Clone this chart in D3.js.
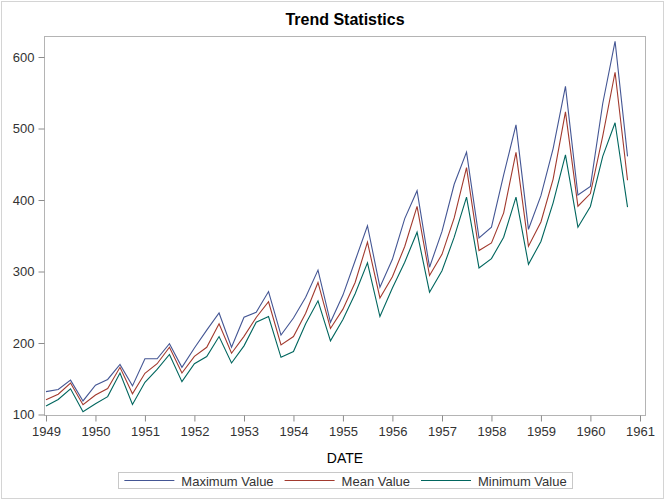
<!DOCTYPE html>
<html>
<head>
<meta charset="utf-8">
<script src="https://cdn.jsdelivr.net/npm/d3@7"></script>
<style>
  html, body { margin: 0; padding: 0; background: #fff; }
  svg { display: block; font-family: "Liberation Sans", Arial, sans-serif; }
</style>
</head>
<body>
<svg id="chart" width="666" height="500"></svg>
<script>
// ---- Data (quarterly statistics) ----
const dates = [
  "1949-01-01","1949-04-01","1949-07-01","1949-10-01",
  "1950-01-01","1950-04-01","1950-07-01","1950-10-01",
  "1951-01-01","1951-04-01","1951-07-01","1951-10-01",
  "1952-01-01","1952-04-01","1952-07-01","1952-10-01",
  "1953-01-01","1953-04-01","1953-07-01","1953-10-01",
  "1954-01-01","1954-04-01","1954-07-01","1954-10-01",
  "1955-01-01","1955-04-01","1955-07-01","1955-10-01",
  "1956-01-01","1956-04-01","1956-07-01","1956-10-01",
  "1957-01-01","1957-04-01","1957-07-01","1957-10-01",
  "1958-01-01","1958-04-01","1958-07-01","1958-10-01",
  "1959-01-01","1959-04-01","1959-07-01","1959-10-01",
  "1960-01-01","1960-04-01","1960-07-01","1960-10-01"
];
const maxValues = [
  132,135,148,119, 141,149,170,140, 178,178,199,166, 193,218,242,194,
  236,243,272,211, 235,264,302,229, 267,315,364,278, 317,374,413,306,
  356,422,467,347, 362,435,505,359, 406,472,559,407, 419,535,622,461
];
const meanValues = [
  120.67,128.33,144.00,113.67, 127.33,136.33,166.00,129.00,
  157.67,171.00,194.00,158.00, 181.33,194.00,227.00,185.67,
  209.33,235.67,257.67,197.33, 209.00,241.67,284.67,220.33,
  247.33,284.67,341.00,263.00, 292.67,335.00,391.00,294.33,
  324.00,375.00,445.33,329.33, 340.00,382.00,466.67,335.33,
  369.33,429.33,523.33,391.33, 409.00,489.33,578.67,427.67
];
const minValues = [
  112,121,136,104, 115,125,158,114, 145,163,184,146, 171,181,209,172,
  196,229,237,180, 188,227,259,203, 233,269,312,237, 277,313,355,271,
  301,348,404,305, 318,348,404,310, 342,396,463,362, 391,461,508,390
];
const yTicks = [100, 200, 300, 400, 500, 600];
const xTickYears = [1949,1950,1951,1952,1953,1954,1955,1956,1957,1958,1959,1960,1961];
const seriesNames = ["Maximum Value", "Mean Value", "Minimum Value"];
const seriesColors = ["#445694", "#A23A2E", "#01665E"];

// ---- Layout ----
const svg = d3.select("#chart");
const W = 666, H = 500;
const frame = { left: 44, right: 646, top: 36, bottom: 416 };

const parse = d3.utcParse("%Y-%m-%d");
const dateObjs = dates.map(parse);

// x: 1949 tick at 46, 1961 tick at 640
const xBase = d3.scaleUtc()
  .domain([new Date(Date.UTC(1949,0,1)), new Date(Date.UTC(1961,0,1))])
  .range([46, 640]);
const x = d3.scaleUtc()
  .domain([xBase.invert(frame.left), xBase.invert(frame.right)])
  .range([frame.left, frame.right]);

// y: 100 at 414.5, 600 at 57
const yBase = d3.scaleLinear().domain([100, 600]).range([414.5, 57]);
const y = d3.scaleLinear()
  .domain([yBase.invert(frame.bottom), yBase.invert(frame.top)])
  .range([frame.bottom, frame.top]);

// outer border
svg.append("rect")
  .attr("x", 1.5).attr("y", 1.5).attr("width", 662).attr("height", 497)
  .attr("fill", "none").attr("stroke", "#d4d4d4").attr("stroke-width", 1);

// title
svg.append("text")
  .attr("x", (frame.left + frame.right) / 2).attr("y", 25)
  .attr("text-anchor", "middle")
  .attr("font-size", 16).attr("font-weight", "bold").attr("fill", "#000")
  .text("Trend Statistics");

// lines
const series = [maxValues, meanValues, minValues];
const line = d3.line()
  .x((d, i) => x(dateObjs[i]))
  .y(d => y(d));
const plot = svg.append("g");
series.forEach((vals, k) => {
  plot.append("path")
    .datum(vals)
    .attr("fill", "none")
    .attr("stroke", seriesColors[k])
    .attr("stroke-width", 1.1)
    .attr("stroke-linejoin", "miter")
    .attr("d", line);
});

// frame
svg.append("rect")
  .attr("x", frame.left + 0.5).attr("y", frame.top + 0.5)
  .attr("width", frame.right - frame.left - 1).attr("height", frame.bottom - frame.top - 1)
  .attr("fill", "none").attr("stroke", "#b4b4b4").attr("stroke-width", 1);

// y axis
const yAxis = d3.axisLeft(y).tickValues(yTicks).tickSize(6).tickPadding(4);
const gy = svg.append("g")
  .attr("transform", `translate(${frame.left + 0.5},0)`)
  .call(yAxis);
gy.select(".domain").remove();
gy.selectAll(".tick line").attr("stroke", "#8c8c8c");
gy.selectAll(".tick text")
  .attr("font-size", 13).attr("fill", "#333")
  .attr("font-family", "Liberation Sans, Arial, sans-serif");

// x axis
const xTickDates = xTickYears.map(yr => new Date(Date.UTC(yr, 0, 1)));
const xAxis = d3.axisBottom(x).tickValues(xTickDates)
  .tickFormat(d3.utcFormat("%Y")).tickSize(6).tickPadding(5);
const gx = svg.append("g")
  .attr("transform", `translate(0,${frame.bottom - 0.5})`)
  .call(xAxis);
gx.select(".domain").remove();
gx.selectAll(".tick line").attr("stroke", "#8c8c8c");
gx.selectAll(".tick text")
  .attr("font-size", 13).attr("fill", "#333")
  .attr("font-family", "Liberation Sans, Arial, sans-serif");

// x axis label
svg.append("text")
  .attr("x", (frame.left + frame.right) / 2).attr("y", 463)
  .attr("text-anchor", "middle")
  .attr("font-size", 14).attr("fill", "#000")
  .text("DATE");

// legend
const legend = svg.append("g");
const lineLen = 50, gapLT = 7, gapItem = 11, pad = 6;
const items = seriesNames.map((name, k) => {
  const g = legend.append("g");
  g.append("line").attr("x1", 0).attr("x2", lineLen).attr("y1", 0).attr("y2", 0)
    .attr("stroke", seriesColors[k]).attr("stroke-width", 1.1);
  const t = g.append("text").attr("x", lineLen + gapLT).attr("y", 5)
    .attr("font-size", 13).attr("fill", "#333").text(name);
  return { g, w: lineLen + gapLT + t.node().getComputedTextLength() };
});
const totalW = pad * 2 + d3.sum(items, d => d.w) + gapItem * (items.length - 1);
const lx0 = 345.5 - totalW / 2;
legend.insert("rect", ":first-child")
  .attr("x", Math.round(lx0) + 0.5).attr("y", 472.5)
  .attr("width", Math.round(totalW)).attr("height", 16)
  .attr("fill", "none").attr("stroke", "#c8c8c8");
let cx = lx0 + pad;
items.forEach(it => {
  it.g.attr("transform", `translate(${cx},480.5)`);
  cx += it.w + gapItem;
});
</script>
</body>
</html>
